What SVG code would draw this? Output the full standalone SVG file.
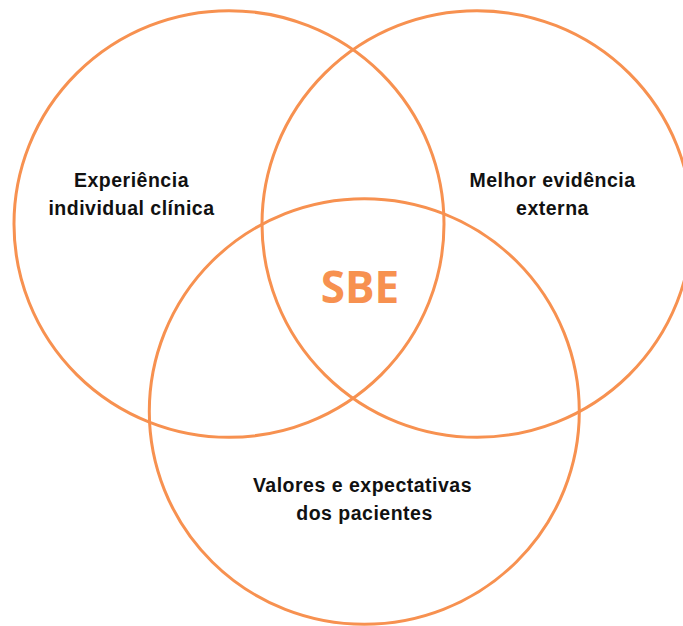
<svg xmlns="http://www.w3.org/2000/svg" width="683" height="626" viewBox="0 0 683 626">
  <style>
    .ring { fill: none; stroke: #F79150; stroke-width: 3; }
    .label { font-family: "Liberation Sans", Arial, sans-serif; font-weight: bold; font-size: 19.5px; letter-spacing: 0.5px; fill: #111111; text-anchor: middle; }
    .core { font-family: "Open Sans", "Liberation Sans", sans-serif; font-weight: bold; font-size: 44px; fill: #F79150; text-anchor: middle; }
  </style>
  <rect width="683" height="626" fill="#ffffff"/>
  <g id="experiencia">
    <ellipse class="ring" cx="229" cy="224" rx="215" ry="213.3"/>
    <text class="label" x="131.5" y="187">Experiência</text>
    <text class="label" x="131.5" y="214.5">individual clínica</text>
  </g>
  <g id="evidencia">
    <ellipse class="ring" cx="477" cy="224" rx="215" ry="213.3"/>
    <text class="label" x="552.5" y="187">Melhor evidência</text>
    <text class="label" x="552.5" y="214.5">externa</text>
  </g>
  <g id="valores">
    <ellipse class="ring" cx="364.3" cy="411.5" rx="215" ry="212.8"/>
    <text class="label" x="362.5" y="492">Valores e expectativas</text>
    <text class="label" x="364.5" y="520">dos pacientes</text>
  </g>
  <g id="sbe">
    <text class="core" x="360" y="303">SBE</text>
  </g>
</svg>
